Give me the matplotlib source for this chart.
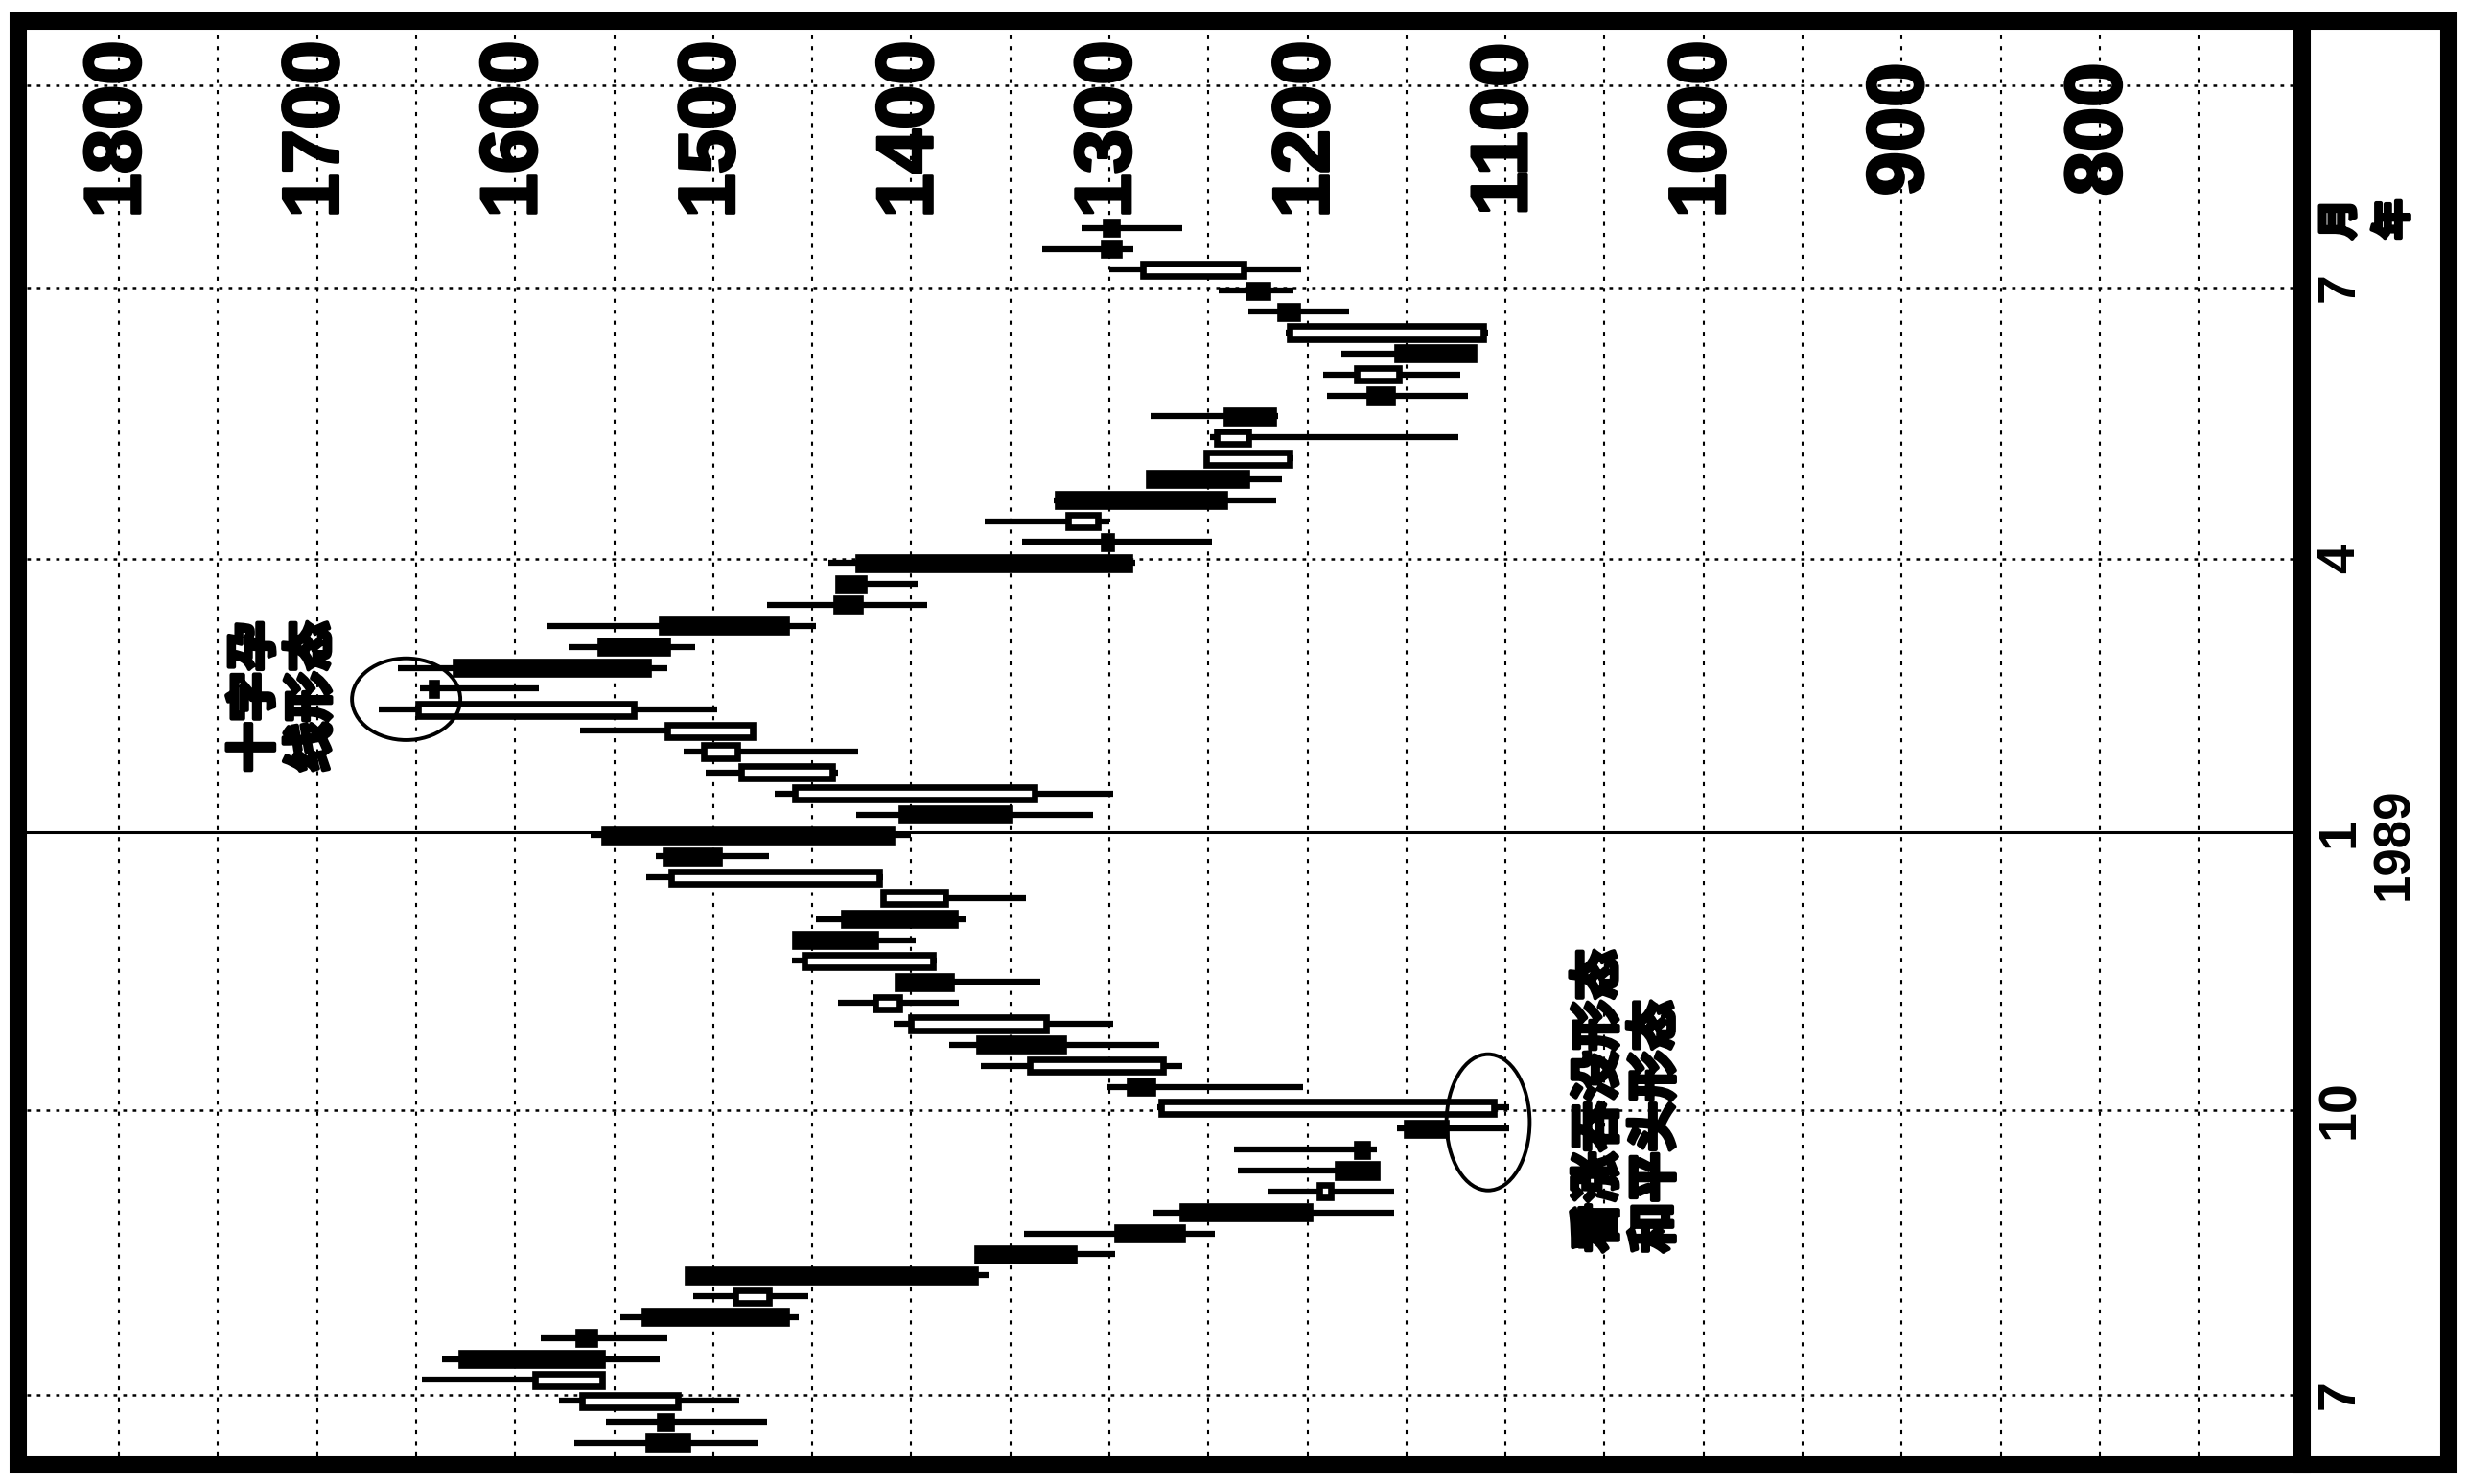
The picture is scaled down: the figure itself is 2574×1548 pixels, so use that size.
import matplotlib
matplotlib.use("Agg")
import matplotlib.pyplot as plt
from matplotlib.patches import Rectangle, Ellipse
from matplotlib.lines import Line2D
from matplotlib.transforms import blended_transform_factory
import matplotlib.patheffects as pe
import numpy as np

# weekly candles, week 0 = mid June 1988 (chart is drawn turned on its side)
opens  = [1533, 1527, 1518, 1556, 1627, 1568, 1535, 1472, 1513, 1367,
          1296, 1263, 1188, 1185, 1175, 1150, 1106, 1290, 1273, 1366,
          1332, 1406, 1407, 1389, 1459, 1434, 1383, 1416, 1524, 1555,
          1405, 1338, 1440, 1488, 1480, 1540, 1642, 1630, 1557, 1526,
          1438, 1437, 1427, 1303, 1306, 1326, 1280, 1209, 1230, 1241,
          1169, 1154, 1155, 1111, 1214, 1230, 1232, 1303, 1302]
highs  = [1570, 1554, 1578, 1647, 1637, 1587, 1547, 1510, 1513, 1367,
          1343, 1278, 1220, 1235, 1237, 1155, 1276, 1301, 1365, 1381,
          1409, 1437, 1407, 1460, 1459, 1448, 1414, 1534, 1529, 1562,
          1428, 1469, 1504, 1515, 1567, 1669, 1648, 1659, 1573, 1584,
          1473, 1437, 1442, 1344, 1363, 1328, 1280, 1251, 1249, 1279,
          1190, 1192, 1183, 1211, 1230, 1245, 1300, 1334, 1314]
lows   = [1477, 1473, 1487, 1556, 1527, 1523, 1457, 1452, 1361, 1297,
          1247, 1156, 1156, 1165, 1165, 1098, 1098, 1202, 1263, 1275,
          1298, 1376, 1335, 1387, 1398, 1372, 1342, 1414, 1472, 1400,
          1308, 1298, 1437, 1427, 1479, 1498, 1588, 1523, 1509, 1448,
          1392, 1397, 1287, 1248, 1300, 1216, 1213, 1207, 1124, 1215,
          1119, 1123, 1116, 1109, 1179, 1207, 1203, 1288, 1263]
closes = [1513, 1521, 1566, 1590, 1556, 1560, 1463, 1489, 1368, 1318,
          1263, 1199, 1194, 1165, 1170, 1130, 1274, 1278, 1340, 1323,
          1400, 1418, 1380, 1454, 1418, 1378, 1414, 1521, 1497, 1410,
          1351, 1459, 1486, 1505, 1523, 1649, 1640, 1533, 1523, 1463,
          1426, 1424, 1290, 1299, 1321, 1242, 1231, 1251, 1246, 1217,
          1157, 1175, 1116, 1209, 1205, 1220, 1283, 1295, 1296]

price_ticks = [1800, 1700, 1600, 1500, 1400, 1300, 1200, 1100, 1000, 900, 800]
month_pos = [2.3, 15.9, 29.15, 42.2, 55.15]
month_labels = ["7", "10", "1", "4", "7"]
top_row = 64.8

W, H = 2574, 1548
fig = plt.figure(figsize=(W / 100, H / 100), dpi=100)


def box(x0, y0, x1, y1):
    return [x0 / W, 1 - y1 / H, (x1 - x0) / W, (y1 - y0) / H]


ax = fig.add_axes(box(28, 31, 2392, 1519))
ax.set_xlim(1846.5, 702.2)
ax.set_ylim(-0.64, 67.46)
ax.axis("off")

# grid
for p in np.arange(750, 1801, 50):
    ax.axvline(p, color="k", lw=1.5, ls=(0, (2, 3.5)), zorder=1)
for k, m in enumerate(month_pos):
    if k == 2:
        ax.axhline(m, color="k", lw=2.2, zorder=1)
    else:
        ax.axhline(m, color="k", lw=1.8, ls=(0, (1.5, 2.5)), zorder=1)
ax.axhline(top_row, color="k", lw=1.8, ls=(0, (1.5, 2.5)), zorder=1)

# candles
bh = 0.6
for i in range(len(opens)):
    o, hi, lo, c = opens[i], highs[i], lows[i], closes[i]
    ax.plot([lo, hi], [i, i], color="k", lw=4.5, solid_capstyle="butt", zorder=3)
    fc = "k" if c < o else "white"
    ax.add_patch(Rectangle((min(o, c), i - bh / 2), max(abs(o - c), 2), bh,
                           facecolor=fc, edgecolor="k", lw=4.8, zorder=4))

# price labels
for p in price_ticks:
    ax.text(p, 62.7, str(p), rotation=90, ha="center", va="center",
            fontsize=60, fontweight="bold", family="Liberation Sans", zorder=6,
            path_effects=[pe.withStroke(linewidth=2, foreground="k")])

cjk = ["Noto Sans CJK SC", "DejaVu Sans"]
heavy = [pe.withStroke(linewidth=3, foreground="k")]
ax.text(1717, 32.0, "十字孕\n线形态", rotation=90, ha="center", va="bottom",
        multialignment="left", fontsize=38, fontweight="bold", family=cjk,
        linespacing=1.15, zorder=6, path_effects=heavy)
ax.text(1038.6, 9.06, "看涨吞没形态\n和平头形态", rotation=90, ha="center",
        va="bottom", multialignment="left", fontsize=38, fontweight="bold",
        family=cjk, linespacing=1.15, zorder=6, path_effects=heavy)

ax.add_patch(Ellipse((1655, 35.5), 54.7, 3.9, fill=False, ec="k", lw=2.8, zorder=5))
ax.add_patch(Ellipse((1108.8, 15.3), 42, 6.5, fill=False, ec="k", lw=2.8, zorder=5))

# month / year strip
tr = blended_transform_factory(fig.transFigure, ax.transData)
for m, lab in zip(month_pos, month_labels):
    ax.text(2441 / W, m, lab, transform=tr, rotation=90, ha="center", va="center",
            fontsize=40, fontweight="bold", family="Liberation Sans", clip_on=False)
ax.text(2497 / W, 28.6, "1989", transform=tr, rotation=90, ha="center", va="center",
        fontsize=38, fontweight="bold", family="Liberation Sans", clip_on=False)
ax.text(2441 / W, 58.4, "月", transform=tr, rotation=90, ha="center", va="center",
        fontsize=30, fontweight="bold", family=cjk, clip_on=False, path_effects=heavy)
ax.text(2497 / W, 58.4, "年", transform=tr, rotation=90, ha="center", va="center",
        fontsize=30, fontweight="bold", family=cjk, clip_on=False, path_effects=heavy)

# heavy frame
fig.add_artist(Rectangle((19 / W, 1 - 1528 / H), (2554 - 19) / W, (1528 - 22) / H,
                         transform=fig.transFigure, fill=False, ec="k", lw=13))
fig.add_artist(Line2D([2401 / W, 2401 / W], [1 - 1528 / H, 1 - 22 / H],
                      transform=fig.transFigure, color="k", lw=13))

fig.savefig("out.png", dpi=100)
